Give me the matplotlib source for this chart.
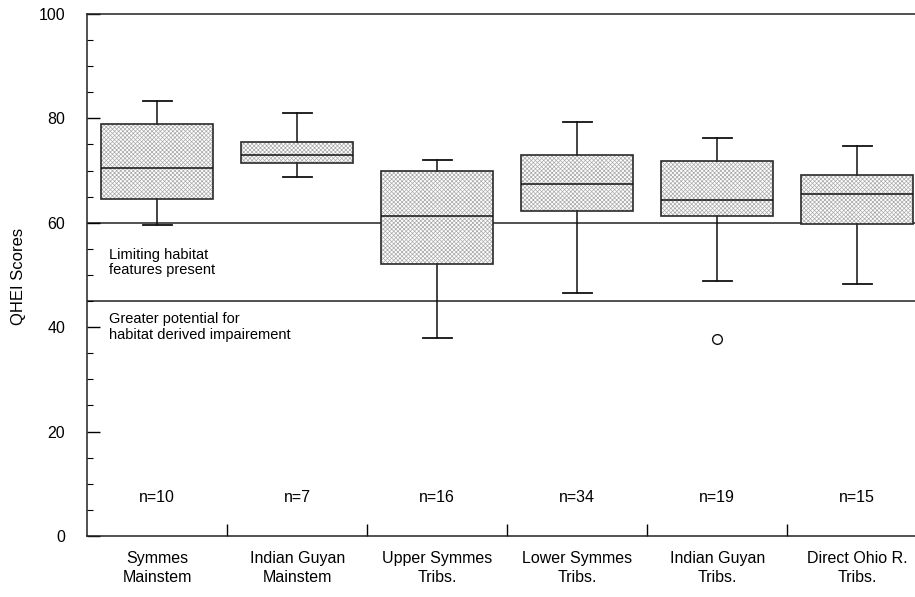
import matplotlib
matplotlib.use("Agg")
import matplotlib.pyplot as plt
from matplotlib.patches import PathPatch
from matplotlib.ticker import MultipleLocator, FixedLocator

plt.rcParams['font.family'] = ['Liberation Sans', 'DejaVu Sans']
plt.rcParams['hatch.linewidth'] = 0.5

categories = ["Symmes\nMainstem", "Indian Guyan\nMainstem", "Upper Symmes\nTribs.",
              "Lower Symmes\nTribs.", "Indian Guyan\nTribs.", "Direct Ohio R.\nTribs."]
n_counts = [10, 7, 16, 34, 19, 15]
whisker_low = [59.6, 68.7, 38.0, 46.5, 48.8, 48.3]
q1 = [64.5, 71.4, 52.0, 62.2, 61.2, 59.8]
median = [70.4, 73.0, 61.2, 67.5, 64.4, 65.5]
q3 = [79.0, 75.5, 70.0, 73.0, 71.8, 69.2]
whisker_high = [83.3, 81.0, 72.0, 79.3, 76.2, 74.6]
outliers = [[], [], [], [], [37.7], []]
ref_lines = [60, 45]

fig = plt.figure(figsize=(9.15, 5.97), dpi=100)
ax = fig.add_axes([87.3 / 915, 1 - 535.9 / 597, 840 / 915, (535.9 - 13.9) / 597])

stats = []
for i in range(len(categories)):
    stats.append(dict(med=median[i], q1=q1[i], q3=q3[i], whislo=whisker_low[i],
                      whishi=whisker_high[i], fliers=outliers[i]))

bp = ax.bxp(stats, positions=range(len(categories)), widths=0.8, patch_artist=True,
            showfliers=True, capwidths=0.21,
            boxprops=dict(facecolor='white', edgecolor='#a9a9a9', linewidth=0, hatch='xxxxxxxx'),
            medianprops=dict(color='#111111', linewidth=1.1),
            whiskerprops=dict(color='#111111', linewidth=1.1),
            capprops=dict(color='#111111', linewidth=1.3),
            flierprops=dict(marker='o', markersize=7, markerfacecolor='white',
                            markeredgecolor='#111111', markeredgewidth=1.0))
for art in bp['boxes'] + bp['medians'] + bp['whiskers'] + bp['caps'] + bp['fliers']:
    art.set_zorder(3)
# dark outlines on top of the lightly hatched boxes
for box in bp['boxes']:
    ax.add_patch(PathPatch(box.get_path(), transform=box.get_transform(), fill=False,
                           edgecolor='#2a2a2a', linewidth=1.2, zorder=3.5))
for art in bp['medians']:
    art.set_zorder(4)

for y in ref_lines:
    ax.axhline(y, color='#222222', linewidth=1.1, zorder=1)

ax.set_xlim(-0.5, len(categories) - 0.5)
ax.set_ylim(0, 100)

ax.yaxis.set_major_locator(MultipleLocator(20))
ax.yaxis.set_minor_locator(MultipleLocator(5))
ax.tick_params(axis='y', which='major', direction='in', length=9, width=1, pad=16, labelsize=11.5)
ax.tick_params(axis='y', which='minor', direction='in', length=4.5, width=0.8)

ax.xaxis.set_major_locator(FixedLocator([i + 0.5 for i in range(len(categories) - 1)]))
ax.xaxis.set_major_formatter(plt.NullFormatter())
ax.xaxis.set_minor_locator(FixedLocator(list(range(len(categories)))))
ax.set_xticklabels(categories, minor=True)
ax.tick_params(axis='x', which='major', direction='in', length=9, width=1)
ax.tick_params(axis='x', which='minor', length=0, pad=11, labelsize=11.5)
for lbl in ax.get_xticklabels(minor=True):
    lbl.set_linespacing(1.3)

ax.spines['right'].set_visible(False)
for s in ['left', 'bottom', 'top']:
    ax.spines[s].set_linewidth(1.1)
    ax.spines[s].set_color('#222222')

for i, n in enumerate(n_counts):
    ax.text(i, 7.3, f"n={n}", ha='center', va='center', fontsize=11.5)

ax.text(-0.345, 55.2, "Limiting habitat\nfeatures present", ha='left', va='top', fontsize=10.5, linespacing=1.1)
ax.text(-0.345, 42.8, "Greater potential for\nhabitat derived impairement", ha='left', va='top', fontsize=10.5, linespacing=1.1)

fig.text(18.5 / 915, 1 - 276 / 597, "QHEI Scores", rotation=90, ha='center', va='center', fontsize=12)

fig.savefig("out.png", dpi=100)
